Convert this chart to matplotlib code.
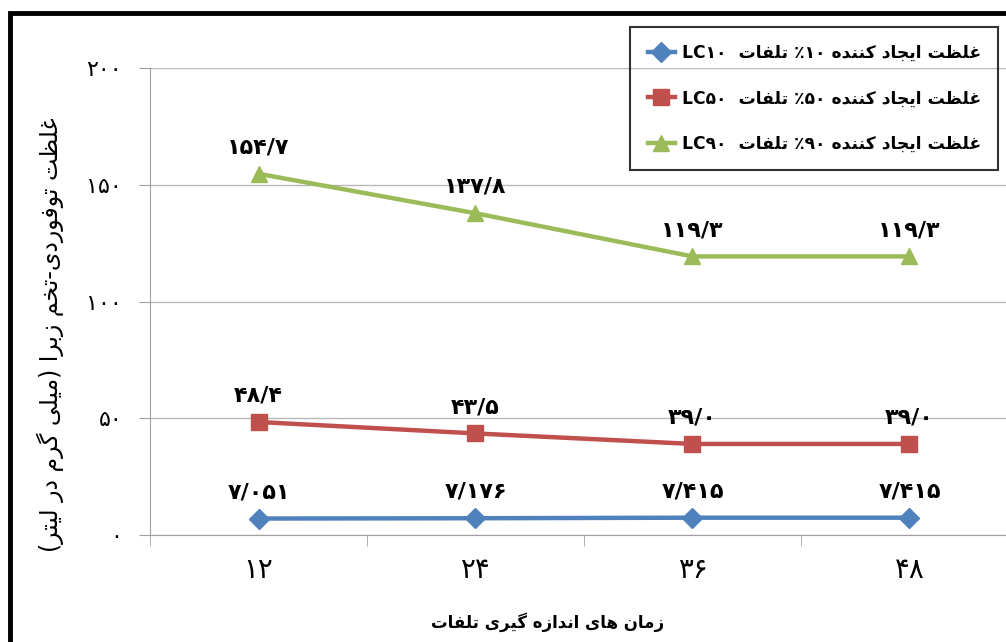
import re
import numpy as np
import matplotlib
matplotlib.use("Agg")
import matplotlib.pyplot as plt
from matplotlib.patches import Rectangle

# chart values
times = [12, 24, 36, 48]
levels = [10, 50, 90]
lc10 = [7.051, 7.176, 7.415, 7.415]
lc50 = [48.4, 43.5, 39.0, 39.0]
lc90 = [154.7, 137.8, 119.3, 119.3]
y_ticks = [0, 50, 100, 150, 200]

colors = ["#4F81BD", "#C0504D", "#9BBB59"]
markers = ["D", "s", "^"]
decimals = [3, 1, 1]

x_title = "زمان های اندازه گیری تلفات"
y_title = "غلظت توفوردی-تخم زبرا (میلی گرم در لیتر)"

# matplotlib does no arabic shaping / bidi, so pick the presentation forms by hand
# (isolated, final, initial, medial) - right joining letters only have the first two
FORMS = {
    "ا": ("\ufe8d", "\ufe8e"),
    "ب": ("\ufe8f", "\ufe90", "\ufe91", "\ufe92"),
    "ت": ("\ufe95", "\ufe96", "\ufe97", "\ufe98"),
    "ج": ("\ufe9d", "\ufe9e", "\ufe9f", "\ufea0"),
    "خ": ("\ufea5", "\ufea6", "\ufea7", "\ufea8"),
    "د": ("\ufea9", "\ufeaa"),
    "ر": ("\ufead", "\ufeae"),
    "ز": ("\ufeaf", "\ufeb0"),
    "س": ("\ufeb1", "\ufeb2", "\ufeb3", "\ufeb4"),
    "ظ": ("\ufec5", "\ufec6", "\ufec7", "\ufec8"),
    "غ": ("\ufecd", "\ufece", "\ufecf", "\ufed0"),
    "ف": ("\ufed1", "\ufed2", "\ufed3", "\ufed4"),
    "ل": ("\ufedd", "\ufede", "\ufedf", "\ufee0"),
    "م": ("\ufee1", "\ufee2", "\ufee3", "\ufee4"),
    "ن": ("\ufee5", "\ufee6", "\ufee7", "\ufee8"),
    "ه": ("\ufee9", "\ufeea", "\ufeeb", "\ufeec"),
    "و": ("\ufeed", "\ufeee"),
    "ک": ("\ufb8e", "\ufb8f", "\ufb90", "\ufb91"),
    "گ": ("\ufb92", "\ufb93", "\ufb94", "\ufb95"),
    "ی": ("\ufbfc", "\ufbfd", "\ufbfe", "\ufbff"),
}


def fa_digits(s):
    return str(s).translate(str.maketrans("0123456789.", "۰۱۲۳۴۵۶۷۸۹/"))


def fa(text):
    out = []
    for i, ch in enumerate(text):
        forms = FORMS.get(ch)
        if forms is None:
            out.append(ch)
            continue
        prev = text[i - 1] if i > 0 else ""
        nxt = text[i + 1] if i + 1 < len(text) else ""
        join_prev = len(FORMS.get(prev, ())) == 4
        join_next = len(forms) == 4 and nxt in FORMS
        if join_prev and join_next:
            out.append(forms[3])
        elif join_prev:
            out.append(forms[1])
        elif join_next:
            out.append(forms[2])
        else:
            out.append(forms[0])
    vis = "".join(reversed(out)).translate(str.maketrans("()", ")("))
    # numbers and latin stay left to right
    return re.sub(r"[0-9A-Za-z\u06f0-\u06f9/.]+", lambda m: m.group(0)[::-1], vis)


fig = plt.figure(figsize=(10.06, 6.42), dpi=100)
W, H = 1006.0, 642.0
ax = fig.add_axes([150 / W, 107 / H, 868 / W, 467 / H])

x = np.arange(len(times)) + 0.5
series = [lc10, lc50, lc90]
for vals, lev, col, mk, dec in zip(series, levels, colors, markers, decimals):
    name = fa("غلظت ایجاد کننده " + fa_digits(lev) + "٪ تلفات  LC" + fa_digits(lev))
    ms = 10 if mk == "D" else 11
    ax.plot(x, vals, color=col, lw=3.2, marker=mk, ms=ms, label=name, zorder=3)
    for xi, v in zip(x, vals):
        ax.annotate(fa_digits(f"{v:.{dec}f}"), (xi, v), xytext=(0, 19),
                    textcoords="offset points", ha="center", va="center",
                    fontsize=16, fontweight="bold")

ax.set_xlim(0, len(times))
ax.set_ylim(0, 200)
ax.set_yticks(y_ticks)
ax.set_yticklabels([fa_digits(t) for t in y_ticks], fontsize=16)
ax.set_xticks(x)
ax.set_xticklabels([fa_digits(t) for t in times], fontsize=20)
ax.set_xticks(np.arange(0, len(times)), minor=True)
ax.tick_params(axis="x", which="major", length=0, pad=15)
ax.tick_params(axis="x", which="minor", length=8, color="#a0a0a0")
ax.tick_params(axis="y", length=8, color="#a0a0a0", pad=12)

ax.grid(axis="y", color="#b8b8b8", lw=1)
ax.set_axisbelow(True)
for s in ["top", "right"]:
    ax.spines[s].set_visible(False)
for s in ["left", "bottom"]:
    ax.spines[s].set_color("#a0a0a0")

ax.set_xlabel(fa(x_title), fontsize=12, fontweight="bold")
ax.xaxis.set_label_coords((548 - 150) / 868, -(612 - 535) / 467)
ax.set_ylabel(fa(y_title), fontsize=17)
ax.yaxis.set_label_coords(-(150 - 64) / 868, (535 - 335) / 467)

leg = ax.legend(loc="upper right", bbox_to_anchor=(998 / W, 1 - 27 / H),
                bbox_transform=fig.transFigure, borderaxespad=0,
                prop={"weight": "bold", "size": 12.3}, frameon=True,
                fancybox=False, edgecolor="black", facecolor="none",
                handlelength=1.6, handletextpad=0.4, labelspacing=1.6,
                borderpad=1.0)
leg.get_frame().set_linewidth(1.5)

# thick frame around the picture (cropped on the right and bottom)
fig.patches.append(Rectangle((10 / W, -0.2), 1.2, 1.2 - 13 / H,
                             transform=fig.transFigure, fill=False,
                             ec="black", lw=3.5))

fig.savefig("out.png", dpi=100)
